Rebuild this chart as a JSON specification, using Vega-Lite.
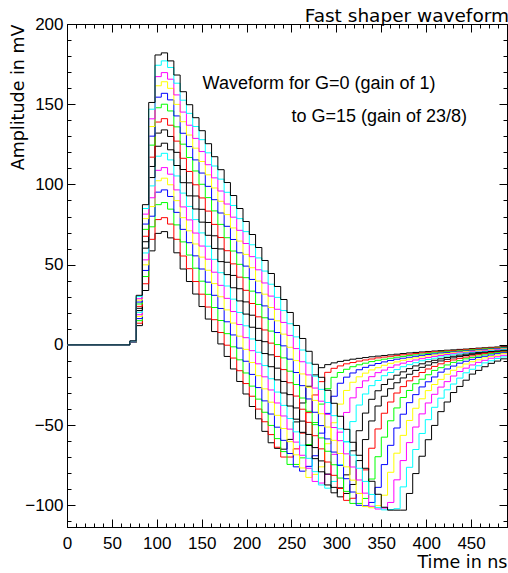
{
"$schema":"https://vega.github.io/schema/vega-lite/v6.json",
"width":440,"height":503,
"autosize":{"type":"none"},
"padding":{"left":67,"top":24,"right":1,"bottom":46},
"background":"white",
"config":{"view":{"stroke":"black","strokeWidth":1},
"axis":{"grid":false,"domainColor":"black","domainWidth":1,"tickColor":"black","tickWidth":1,"labelColor":"black","titleColor":"black","labelFont":"Liberation Sans","labelFontSize":17,"titleFont":"DejaVu Sans","titleFontSize":17.5,"titleFontWeight":"normal","labelOverlap":false,"labelFlush":false}},
"title":{"text":"Fast shaper waveform","anchor":"end","font":"DejaVu Sans","fontSize":18.5,"fontWeight":"normal","color":"black","offset":1,"dy":11},
"datasets":{"w":[
{"g":0,"t":0,"v":0},{"g":0,"t":70,"v":1.5},{"g":0,"t":77,"v":12.0},{"g":0,"t":84,"v":33.9},{"g":0,"t":91,"v":58.6},{"g":0,"t":98,"v":69.5},{"g":0,"t":105,"v":70.6},{"g":0,"t":112,"v":66.7},{"g":0,"t":119,"v":57.4},{"g":0,"t":126,"v":47.3},{"g":0,"t":133,"v":39.5},{"g":0,"t":140,"v":31.7},{"g":0,"t":147,"v":23.9},{"g":0,"t":154,"v":16.1},{"g":0,"t":161,"v":8.3},{"g":0,"t":168,"v":0.6},{"g":0,"t":175,"v":-7.2},{"g":0,"t":182,"v":-15.0},{"g":0,"t":189,"v":-22.8},{"g":0,"t":196,"v":-30.6},{"g":0,"t":203,"v":-38.4},{"g":0,"t":210,"v":-46.1},{"g":0,"t":217,"v":-53.9},{"g":0,"t":224,"v":-61},{"g":0,"t":231,"v":-64.5},{"g":0,"t":238,"v":-65},{"g":0,"t":245,"v":-58.9},{"g":0,"t":252,"v":-48.0},{"g":0,"t":259,"v":-36.2},{"g":0,"t":266,"v":-25.8},{"g":0,"t":273,"v":-18.7},{"g":0,"t":280,"v":-14.2},{"g":0,"t":287,"v":-12.3},{"g":0,"t":294,"v":-11.2},{"g":0,"t":301,"v":-10.3},{"g":0,"t":308,"v":-9.6},{"g":0,"t":315,"v":-8.9},{"g":0,"t":322,"v":-8.4},{"g":0,"t":329,"v":-7.9},{"g":0,"t":336,"v":-7.4},{"g":0,"t":343,"v":-7.0},{"g":0,"t":350,"v":-6.6},{"g":0,"t":357,"v":-6.2},{"g":0,"t":364,"v":-5.8},{"g":0,"t":371,"v":-5.4},{"g":0,"t":378,"v":-5.0},{"g":0,"t":385,"v":-4.7},{"g":0,"t":392,"v":-4.4},{"g":0,"t":399,"v":-4.1},{"g":0,"t":406,"v":-3.8},{"g":0,"t":413,"v":-3.6},{"g":0,"t":420,"v":-3.3},{"g":0,"t":427,"v":-3.1},{"g":0,"t":434,"v":-2.8},{"g":0,"t":441,"v":-2.6},{"g":0,"t":448,"v":-2.3},{"g":0,"t":455,"v":-2.0},{"g":0,"t":462,"v":-1.8},{"g":0,"t":469,"v":-1.5},{"g":0,"t":476,"v":-1.3},{"g":0,"t":483,"v":-1.1},{"g":0,"t":490,"v":-1.1},
{"g":1,"t":0,"v":0},{"g":1,"t":70,"v":1.6},{"g":1,"t":77,"v":13.5},{"g":1,"t":84,"v":38.1},{"g":1,"t":91,"v":65.8},{"g":1,"t":98,"v":78.1},{"g":1,"t":105,"v":79.3},{"g":1,"t":112,"v":75.3},{"g":1,"t":119,"v":65.8},{"g":1,"t":126,"v":55.4},{"g":1,"t":133,"v":47.5},{"g":1,"t":140,"v":39.5},{"g":1,"t":147,"v":31.6},{"g":1,"t":154,"v":23.6},{"g":1,"t":161,"v":15.7},{"g":1,"t":168,"v":7.7},{"g":1,"t":175,"v":-0.2},{"g":1,"t":182,"v":-8.2},{"g":1,"t":189,"v":-16.1},{"g":1,"t":196,"v":-24.1},{"g":1,"t":203,"v":-32.0},{"g":1,"t":210,"v":-40.0},{"g":1,"t":217,"v":-47.9},{"g":1,"t":224,"v":-55.9},{"g":1,"t":231,"v":-63.8},{"g":1,"t":238,"v":-69.9},{"g":1,"t":245,"v":-69.9},{"g":1,"t":252,"v":-64.8},{"g":1,"t":259,"v":-55.0},{"g":1,"t":266,"v":-42.2},{"g":1,"t":273,"v":-31.2},{"g":1,"t":280,"v":-22.9},{"g":1,"t":287,"v":-17.1},{"g":1,"t":294,"v":-14.6},{"g":1,"t":301,"v":-13.1},{"g":1,"t":308,"v":-11.8},{"g":1,"t":315,"v":-11.0},{"g":1,"t":322,"v":-10.1},{"g":1,"t":329,"v":-9.4},{"g":1,"t":336,"v":-8.8},{"g":1,"t":343,"v":-8.1},{"g":1,"t":350,"v":-7.6},{"g":1,"t":357,"v":-7.1},{"g":1,"t":364,"v":-6.7},{"g":1,"t":371,"v":-6.2},{"g":1,"t":378,"v":-5.8},{"g":1,"t":385,"v":-5.4},{"g":1,"t":392,"v":-5.0},{"g":1,"t":399,"v":-4.6},{"g":1,"t":406,"v":-4.3},{"g":1,"t":413,"v":-4.1},{"g":1,"t":420,"v":-3.8},{"g":1,"t":427,"v":-3.5},{"g":1,"t":434,"v":-3.3},{"g":1,"t":441,"v":-3.0},{"g":1,"t":448,"v":-2.7},{"g":1,"t":455,"v":-2.4},{"g":1,"t":462,"v":-2.1},{"g":1,"t":469,"v":-1.9},{"g":1,"t":476,"v":-1.6},{"g":1,"t":483,"v":-1.4},{"g":1,"t":490,"v":-1.4},
{"g":2,"t":0,"v":0},{"g":2,"t":70,"v":1.6},{"g":2,"t":77,"v":15.1},{"g":2,"t":84,"v":42.6},{"g":2,"t":91,"v":73.6},{"g":2,"t":98,"v":87.4},{"g":2,"t":105,"v":88.7},{"g":2,"t":112,"v":84.6},{"g":2,"t":119,"v":74.8},{"g":2,"t":126,"v":64.2},{"g":2,"t":133,"v":56.0},{"g":2,"t":140,"v":47.8},{"g":2,"t":147,"v":39.7},{"g":2,"t":154,"v":31.5},{"g":2,"t":161,"v":23.3},{"g":2,"t":168,"v":15.2},{"g":2,"t":175,"v":7.0},{"g":2,"t":182,"v":-1.2},{"g":2,"t":189,"v":-9.3},{"g":2,"t":196,"v":-17.5},{"g":2,"t":203,"v":-25.7},{"g":2,"t":210,"v":-33.8},{"g":2,"t":217,"v":-42.0},{"g":2,"t":224,"v":-50.2},{"g":2,"t":231,"v":-58.4},{"g":2,"t":238,"v":-66.5},{"g":2,"t":245,"v":-74.5},{"g":2,"t":252,"v":-74.5},{"g":2,"t":259,"v":-70.4},{"g":2,"t":266,"v":-62.1},{"g":2,"t":273,"v":-48.4},{"g":2,"t":280,"v":-36.9},{"g":2,"t":287,"v":-27.3},{"g":2,"t":294,"v":-20.2},{"g":2,"t":301,"v":-17.2},{"g":2,"t":308,"v":-15.2},{"g":2,"t":315,"v":-13.6},{"g":2,"t":322,"v":-12.4},{"g":2,"t":329,"v":-11.4},{"g":2,"t":336,"v":-10.4},{"g":2,"t":343,"v":-9.6},{"g":2,"t":350,"v":-8.9},{"g":2,"t":357,"v":-8.3},{"g":2,"t":364,"v":-7.7},{"g":2,"t":371,"v":-7.2},{"g":2,"t":378,"v":-6.6},{"g":2,"t":385,"v":-6.2},{"g":2,"t":392,"v":-5.7},{"g":2,"t":399,"v":-5.3},{"g":2,"t":406,"v":-4.9},{"g":2,"t":413,"v":-4.5},{"g":2,"t":420,"v":-4.2},{"g":2,"t":427,"v":-4.0},{"g":2,"t":434,"v":-3.7},{"g":2,"t":441,"v":-3.4},{"g":2,"t":448,"v":-3.1},{"g":2,"t":455,"v":-2.8},{"g":2,"t":462,"v":-2.5},{"g":2,"t":469,"v":-2.2},{"g":2,"t":476,"v":-2.0},{"g":2,"t":483,"v":-1.7},{"g":2,"t":490,"v":-1.7},
{"g":3,"t":0,"v":0},{"g":3,"t":70,"v":1.7},{"g":3,"t":77,"v":16.4},{"g":3,"t":84,"v":46.4},{"g":3,"t":91,"v":80.2},{"g":3,"t":98,"v":95.2},{"g":3,"t":105,"v":96.6},{"g":3,"t":112,"v":92.5},{"g":3,"t":119,"v":82.6},{"g":3,"t":126,"v":72.0},{"g":3,"t":133,"v":63.7},{"g":3,"t":140,"v":55.5},{"g":3,"t":147,"v":47.3},{"g":3,"t":154,"v":39.1},{"g":3,"t":161,"v":30.9},{"g":3,"t":168,"v":22.7},{"g":3,"t":175,"v":14.4},{"g":3,"t":182,"v":6.2},{"g":3,"t":189,"v":-2.0},{"g":3,"t":196,"v":-10.2},{"g":3,"t":203,"v":-18.4},{"g":3,"t":210,"v":-26.6},{"g":3,"t":217,"v":-34.9},{"g":3,"t":224,"v":-43.1},{"g":3,"t":231,"v":-51.3},{"g":3,"t":238,"v":-59.5},{"g":3,"t":245,"v":-67.7},{"g":3,"t":252,"v":-76.0},{"g":3,"t":259,"v":-78.7},{"g":3,"t":266,"v":-75.7},{"g":3,"t":273,"v":-69.1},{"g":3,"t":280,"v":-55.0},{"g":3,"t":287,"v":-42.7},{"g":3,"t":294,"v":-32.0},{"g":3,"t":301,"v":-23.9},{"g":3,"t":308,"v":-20.1},{"g":3,"t":315,"v":-17.5},{"g":3,"t":322,"v":-15.5},{"g":3,"t":329,"v":-14.0},{"g":3,"t":336,"v":-12.7},{"g":3,"t":343,"v":-11.6},{"g":3,"t":350,"v":-10.6},{"g":3,"t":357,"v":-9.7},{"g":3,"t":364,"v":-8.9},{"g":3,"t":371,"v":-8.3},{"g":3,"t":378,"v":-7.7},{"g":3,"t":385,"v":-7.1},{"g":3,"t":392,"v":-6.5},{"g":3,"t":399,"v":-6.0},{"g":3,"t":406,"v":-5.6},{"g":3,"t":413,"v":-5.1},{"g":3,"t":420,"v":-4.7},{"g":3,"t":427,"v":-4.4},{"g":3,"t":434,"v":-4.1},{"g":3,"t":441,"v":-3.8},{"g":3,"t":448,"v":-3.5},{"g":3,"t":455,"v":-3.2},{"g":3,"t":462,"v":-2.9},{"g":3,"t":469,"v":-2.6},{"g":3,"t":476,"v":-2.3},{"g":3,"t":483,"v":-2.0},{"g":3,"t":490,"v":-2.0},
{"g":4,"t":0,"v":0},{"g":4,"t":70,"v":1.8},{"g":4,"t":77,"v":17.7},{"g":4,"t":84,"v":49.9},{"g":4,"t":91,"v":86.2},{"g":4,"t":98,"v":102.3},{"g":4,"t":105,"v":103.9},{"g":4,"t":112,"v":99.8},{"g":4,"t":119,"v":89.9},{"g":4,"t":126,"v":79.3},{"g":4,"t":133,"v":71.1},{"g":4,"t":140,"v":62.9},{"g":4,"t":147,"v":54.7},{"g":4,"t":154,"v":46.5},{"g":4,"t":161,"v":38.2},{"g":4,"t":168,"v":30.0},{"g":4,"t":175,"v":21.8},{"g":4,"t":182,"v":13.6},{"g":4,"t":189,"v":5.4},{"g":4,"t":196,"v":-2.8},{"g":4,"t":203,"v":-11.0},{"g":4,"t":210,"v":-19.2},{"g":4,"t":217,"v":-27.4},{"g":4,"t":224,"v":-35.7},{"g":4,"t":231,"v":-43.9},{"g":4,"t":238,"v":-52.1},{"g":4,"t":245,"v":-60.3},{"g":4,"t":252,"v":-68.5},{"g":4,"t":259,"v":-76.7},{"g":4,"t":266,"v":-82.6},{"g":4,"t":273,"v":-80.7},{"g":4,"t":280,"v":-76.0},{"g":4,"t":287,"v":-61.6},{"g":4,"t":294,"v":-48.5},{"g":4,"t":301,"v":-36.9},{"g":4,"t":308,"v":-28.4},{"g":4,"t":315,"v":-23.3},{"g":4,"t":322,"v":-19.9},{"g":4,"t":329,"v":-17.6},{"g":4,"t":336,"v":-15.6},{"g":4,"t":343,"v":-14.2},{"g":4,"t":350,"v":-12.7},{"g":4,"t":357,"v":-11.5},{"g":4,"t":364,"v":-10.6},{"g":4,"t":371,"v":-9.6},{"g":4,"t":378,"v":-8.8},{"g":4,"t":385,"v":-8.1},{"g":4,"t":392,"v":-7.5},{"g":4,"t":399,"v":-6.9},{"g":4,"t":406,"v":-6.3},{"g":4,"t":413,"v":-5.8},{"g":4,"t":420,"v":-5.3},{"g":4,"t":427,"v":-4.9},{"g":4,"t":434,"v":-4.5},{"g":4,"t":441,"v":-4.2},{"g":4,"t":448,"v":-3.9},{"g":4,"t":455,"v":-3.6},{"g":4,"t":462,"v":-3.3},{"g":4,"t":469,"v":-2.9},{"g":4,"t":476,"v":-2.7},{"g":4,"t":483,"v":-2.4},{"g":4,"t":490,"v":-2.4},
{"g":5,"t":0,"v":0},{"g":5,"t":70,"v":1.8},{"g":5,"t":77,"v":18.8},{"g":5,"t":84,"v":53.0},{"g":5,"t":91,"v":91.7},{"g":5,"t":98,"v":108.8},{"g":5,"t":105,"v":110.5},{"g":5,"t":112,"v":106.4},{"g":5,"t":119,"v":96.6},{"g":5,"t":126,"v":86.0},{"g":5,"t":133,"v":77.9},{"g":5,"t":140,"v":69.7},{"g":5,"t":147,"v":61.6},{"g":5,"t":154,"v":53.4},{"g":5,"t":161,"v":45.3},{"g":5,"t":168,"v":37.1},{"g":5,"t":175,"v":29.0},{"g":5,"t":182,"v":20.8},{"g":5,"t":189,"v":12.7},{"g":5,"t":196,"v":4.5},{"g":5,"t":203,"v":-3.6},{"g":5,"t":210,"v":-11.8},{"g":5,"t":217,"v":-19.9},{"g":5,"t":224,"v":-28.1},{"g":5,"t":231,"v":-36.2},{"g":5,"t":238,"v":-44.3},{"g":5,"t":245,"v":-52.5},{"g":5,"t":252,"v":-60.6},{"g":5,"t":259,"v":-68.8},{"g":5,"t":266,"v":-76.9},{"g":5,"t":273,"v":-85.1},{"g":5,"t":280,"v":-86.1},{"g":5,"t":287,"v":-80.7},{"g":5,"t":294,"v":-68.2},{"g":5,"t":301,"v":-54.4},{"g":5,"t":308,"v":-42.1},{"g":5,"t":315,"v":-33.0},{"g":5,"t":322,"v":-26.6},{"g":5,"t":329,"v":-22.4},{"g":5,"t":336,"v":-19.8},{"g":5,"t":343,"v":-17.3},{"g":5,"t":350,"v":-15.7},{"g":5,"t":357,"v":-14.0},{"g":5,"t":364,"v":-12.5},{"g":5,"t":371,"v":-11.4},{"g":5,"t":378,"v":-10.3},{"g":5,"t":385,"v":-9.4},{"g":5,"t":392,"v":-8.6},{"g":5,"t":399,"v":-7.9},{"g":5,"t":406,"v":-7.2},{"g":5,"t":413,"v":-6.6},{"g":5,"t":420,"v":-6.0},{"g":5,"t":427,"v":-5.5},{"g":5,"t":434,"v":-5.0},{"g":5,"t":441,"v":-4.7},{"g":5,"t":448,"v":-4.3},{"g":5,"t":455,"v":-4.0},{"g":5,"t":462,"v":-3.7},{"g":5,"t":469,"v":-3.3},{"g":5,"t":476,"v":-3.0},{"g":5,"t":483,"v":-2.7},{"g":5,"t":490,"v":-2.7},
{"g":6,"t":0,"v":0},{"g":6,"t":70,"v":1.9},{"g":6,"t":77,"v":20.3},{"g":6,"t":84,"v":57.3},{"g":6,"t":91,"v":99.1},{"g":6,"t":98,"v":117.6},{"g":6,"t":105,"v":119.4},{"g":6,"t":112,"v":115.3},{"g":6,"t":119,"v":105.3},{"g":6,"t":126,"v":94.6},{"g":6,"t":133,"v":86.3},{"g":6,"t":140,"v":78.1},{"g":6,"t":147,"v":69.8},{"g":6,"t":154,"v":61.5},{"g":6,"t":161,"v":53.3},{"g":6,"t":168,"v":45.0},{"g":6,"t":175,"v":36.7},{"g":6,"t":182,"v":28.5},{"g":6,"t":189,"v":20.2},{"g":6,"t":196,"v":11.9},{"g":6,"t":203,"v":3.7},{"g":6,"t":210,"v":-4.6},{"g":6,"t":217,"v":-12.9},{"g":6,"t":224,"v":-21.1},{"g":6,"t":231,"v":-29.4},{"g":6,"t":238,"v":-37.7},{"g":6,"t":245,"v":-45.9},{"g":6,"t":252,"v":-54.2},{"g":6,"t":259,"v":-62.5},{"g":6,"t":266,"v":-70.7},{"g":6,"t":273,"v":-79.0},{"g":6,"t":280,"v":-87.3},{"g":6,"t":287,"v":-89.3},{"g":6,"t":294,"v":-85.1},{"g":6,"t":301,"v":-74.7},{"g":6,"t":308,"v":-60.2},{"g":6,"t":315,"v":-47.8},{"g":6,"t":322,"v":-37.5},{"g":6,"t":329,"v":-30.6},{"g":6,"t":336,"v":-25.4},{"g":6,"t":343,"v":-22.2},{"g":6,"t":350,"v":-19.2},{"g":6,"t":357,"v":-17.2},{"g":6,"t":364,"v":-15.4},{"g":6,"t":371,"v":-13.6},{"g":6,"t":378,"v":-12.3},{"g":6,"t":385,"v":-11.1},{"g":6,"t":392,"v":-9.9},{"g":6,"t":399,"v":-9.1},{"g":6,"t":406,"v":-8.3},{"g":6,"t":413,"v":-7.5},{"g":6,"t":420,"v":-6.9},{"g":6,"t":427,"v":-6.2},{"g":6,"t":434,"v":-5.6},{"g":6,"t":441,"v":-5.1},{"g":6,"t":448,"v":-4.8},{"g":6,"t":455,"v":-4.4},{"g":6,"t":462,"v":-4.1},{"g":6,"t":469,"v":-3.7},{"g":6,"t":476,"v":-3.4},{"g":6,"t":483,"v":-3.0},{"g":6,"t":490,"v":-3.0},
{"g":7,"t":0,"v":0},{"g":7,"t":70,"v":2.0},{"g":7,"t":77,"v":21.4},{"g":7,"t":84,"v":60.3},{"g":7,"t":91,"v":104.3},{"g":7,"t":98,"v":123.8},{"g":7,"t":105,"v":125.7},{"g":7,"t":112,"v":121.6},{"g":7,"t":119,"v":111.8},{"g":7,"t":126,"v":101.1},{"g":7,"t":133,"v":92.9},{"g":7,"t":140,"v":84.7},{"g":7,"t":147,"v":76.5},{"g":7,"t":154,"v":68.3},{"g":7,"t":161,"v":60.1},{"g":7,"t":168,"v":51.9},{"g":7,"t":175,"v":43.8},{"g":7,"t":182,"v":35.6},{"g":7,"t":189,"v":27.4},{"g":7,"t":196,"v":19.2},{"g":7,"t":203,"v":11.0},{"g":7,"t":210,"v":2.8},{"g":7,"t":217,"v":-5.4},{"g":7,"t":224,"v":-13.6},{"g":7,"t":231,"v":-21.8},{"g":7,"t":238,"v":-30.0},{"g":7,"t":245,"v":-38.1},{"g":7,"t":252,"v":-46.3},{"g":7,"t":259,"v":-54.5},{"g":7,"t":266,"v":-62.7},{"g":7,"t":273,"v":-70.9},{"g":7,"t":280,"v":-79.1},{"g":7,"t":287,"v":-87.3},{"g":7,"t":294,"v":-92.2},{"g":7,"t":301,"v":-89.1},{"g":7,"t":308,"v":-81.0},{"g":7,"t":315,"v":-66.0},{"g":7,"t":322,"v":-53.5},{"g":7,"t":329,"v":-42.5},{"g":7,"t":336,"v":-33.9},{"g":7,"t":343,"v":-28.6},{"g":7,"t":350,"v":-24.7},{"g":7,"t":357,"v":-21.4},{"g":7,"t":364,"v":-18.9},{"g":7,"t":371,"v":-16.8},{"g":7,"t":378,"v":-14.8},{"g":7,"t":385,"v":-13.1},{"g":7,"t":392,"v":-11.8},{"g":7,"t":399,"v":-10.5},{"g":7,"t":406,"v":-9.6},{"g":7,"t":413,"v":-8.7},{"g":7,"t":420,"v":-7.8},{"g":7,"t":427,"v":-7.1},{"g":7,"t":434,"v":-6.4},{"g":7,"t":441,"v":-5.8},{"g":7,"t":448,"v":-5.2},{"g":7,"t":455,"v":-4.8},{"g":7,"t":462,"v":-4.5},{"g":7,"t":469,"v":-4.1},{"g":7,"t":476,"v":-3.8},{"g":7,"t":483,"v":-3.4},{"g":7,"t":490,"v":-3.4},
{"g":8,"t":0,"v":0},{"g":8,"t":70,"v":2.0},{"g":8,"t":77,"v":22.8},{"g":8,"t":84,"v":64.3},{"g":8,"t":91,"v":111.2},{"g":8,"t":98,"v":132.0},{"g":8,"t":105,"v":134.0},{"g":8,"t":112,"v":129.9},{"g":8,"t":119,"v":120.0},{"g":8,"t":126,"v":109.3},{"g":8,"t":133,"v":101.0},{"g":8,"t":140,"v":92.8},{"g":8,"t":147,"v":84.5},{"g":8,"t":154,"v":76.3},{"g":8,"t":161,"v":68.0},{"g":8,"t":168,"v":59.8},{"g":8,"t":175,"v":51.5},{"g":8,"t":182,"v":43.3},{"g":8,"t":189,"v":35.0},{"g":8,"t":196,"v":26.8},{"g":8,"t":203,"v":18.5},{"g":8,"t":210,"v":10.3},{"g":8,"t":217,"v":2.0},{"g":8,"t":224,"v":-6.2},{"g":8,"t":231,"v":-14.5},{"g":8,"t":238,"v":-22.8},{"g":8,"t":245,"v":-31.0},{"g":8,"t":252,"v":-39.3},{"g":8,"t":259,"v":-47.5},{"g":8,"t":266,"v":-55.8},{"g":8,"t":273,"v":-64.0},{"g":8,"t":280,"v":-72.3},{"g":8,"t":287,"v":-80.5},{"g":8,"t":294,"v":-88.8},{"g":8,"t":301,"v":-94.7},{"g":8,"t":308,"v":-92.6},{"g":8,"t":315,"v":-87.0},{"g":8,"t":322,"v":-72.1},{"g":8,"t":329,"v":-59.0},{"g":8,"t":336,"v":-47.4},{"g":8,"t":343,"v":-38.1},{"g":8,"t":350,"v":-32.0},{"g":8,"t":357,"v":-27.3},{"g":8,"t":364,"v":-23.6},{"g":8,"t":371,"v":-20.6},{"g":8,"t":378,"v":-18.3},{"g":8,"t":385,"v":-15.9},{"g":8,"t":392,"v":-14.0},{"g":8,"t":399,"v":-12.6},{"g":8,"t":406,"v":-11.1},{"g":8,"t":413,"v":-10.0},{"g":8,"t":420,"v":-9.0},{"g":8,"t":427,"v":-8.1},{"g":8,"t":434,"v":-7.3},{"g":8,"t":441,"v":-6.6},{"g":8,"t":448,"v":-5.9},{"g":8,"t":455,"v":-5.3},{"g":8,"t":462,"v":-4.9},{"g":8,"t":469,"v":-4.5},{"g":8,"t":476,"v":-4.1},{"g":8,"t":483,"v":-3.8},{"g":8,"t":490,"v":-3.8},
{"g":9,"t":0,"v":0},{"g":9,"t":70,"v":2.1},{"g":9,"t":77,"v":24.0},{"g":9,"t":84,"v":67.7},{"g":9,"t":91,"v":117.0},{"g":9,"t":98,"v":138.9},{"g":9,"t":105,"v":141.0},{"g":9,"t":112,"v":136.9},{"g":9,"t":119,"v":127.0},{"g":9,"t":126,"v":116.3},{"g":9,"t":133,"v":108.1},{"g":9,"t":140,"v":99.8},{"g":9,"t":147,"v":91.6},{"g":9,"t":154,"v":83.4},{"g":9,"t":161,"v":75.1},{"g":9,"t":168,"v":66.9},{"g":9,"t":175,"v":58.7},{"g":9,"t":182,"v":50.5},{"g":9,"t":189,"v":42.2},{"g":9,"t":196,"v":34.0},{"g":9,"t":203,"v":25.8},{"g":9,"t":210,"v":17.5},{"g":9,"t":217,"v":9.3},{"g":9,"t":224,"v":1.1},{"g":9,"t":231,"v":-7.2},{"g":9,"t":238,"v":-15.4},{"g":9,"t":245,"v":-23.6},{"g":9,"t":252,"v":-31.9},{"g":9,"t":259,"v":-40.1},{"g":9,"t":266,"v":-48.3},{"g":9,"t":273,"v":-56.6},{"g":9,"t":280,"v":-64.8},{"g":9,"t":287,"v":-73.0},{"g":9,"t":294,"v":-81.3},{"g":9,"t":301,"v":-89.5},{"g":9,"t":308,"v":-96.9},{"g":9,"t":315,"v":-95.6},{"g":9,"t":322,"v":-92.6},{"g":9,"t":329,"v":-77.9},{"g":9,"t":336,"v":-64.4},{"g":9,"t":343,"v":-52.4},{"g":9,"t":350,"v":-42.6},{"g":9,"t":357,"v":-35.6},{"g":9,"t":364,"v":-30.0},{"g":9,"t":371,"v":-26.0},{"g":9,"t":378,"v":-22.4},{"g":9,"t":385,"v":-19.8},{"g":9,"t":392,"v":-17.2},{"g":9,"t":399,"v":-15.0},{"g":9,"t":406,"v":-13.4},{"g":9,"t":413,"v":-11.8},{"g":9,"t":420,"v":-10.4},{"g":9,"t":427,"v":-9.4},{"g":9,"t":434,"v":-8.4},{"g":9,"t":441,"v":-7.6},{"g":9,"t":448,"v":-6.8},{"g":9,"t":455,"v":-6.1},{"g":9,"t":462,"v":-5.3},{"g":9,"t":469,"v":-4.9},{"g":9,"t":476,"v":-4.5},{"g":9,"t":483,"v":-4.1},{"g":9,"t":490,"v":-4.1},
{"g":10,"t":0,"v":0},{"g":10,"t":70,"v":2.2},{"g":10,"t":77,"v":25.5},{"g":10,"t":84,"v":72.0},{"g":10,"t":91,"v":124.5},{"g":10,"t":98,"v":147.8},{"g":10,"t":105,"v":150.0},{"g":10,"t":112,"v":145.8},{"g":10,"t":119,"v":135.9},{"g":10,"t":126,"v":125.1},{"g":10,"t":133,"v":116.8},{"g":10,"t":140,"v":108.4},{"g":10,"t":147,"v":100.1},{"g":10,"t":154,"v":91.8},{"g":10,"t":161,"v":83.5},{"g":10,"t":168,"v":75.1},{"g":10,"t":175,"v":66.8},{"g":10,"t":182,"v":58.5},{"g":10,"t":189,"v":50.2},{"g":10,"t":196,"v":41.9},{"g":10,"t":203,"v":33.5},{"g":10,"t":210,"v":25.2},{"g":10,"t":217,"v":16.9},{"g":10,"t":224,"v":8.6},{"g":10,"t":231,"v":0.2},{"g":10,"t":238,"v":-8.1},{"g":10,"t":245,"v":-16.4},{"g":10,"t":252,"v":-24.7},{"g":10,"t":259,"v":-33.1},{"g":10,"t":266,"v":-41.4},{"g":10,"t":273,"v":-49.7},{"g":10,"t":280,"v":-58.0},{"g":10,"t":287,"v":-66.3},{"g":10,"t":294,"v":-74.7},{"g":10,"t":301,"v":-83.0},{"g":10,"t":308,"v":-91.3},{"g":10,"t":315,"v":-98.8},{"g":10,"t":322,"v":-98.8},{"g":10,"t":329,"v":-95.7},{"g":10,"t":336,"v":-83.6},{"g":10,"t":343,"v":-69.7},{"g":10,"t":350,"v":-57.5},{"g":10,"t":357,"v":-47.3},{"g":10,"t":364,"v":-39.3},{"g":10,"t":371,"v":-32.8},{"g":10,"t":378,"v":-28.4},{"g":10,"t":385,"v":-24.2},{"g":10,"t":392,"v":-21.4},{"g":10,"t":399,"v":-18.6},{"g":10,"t":406,"v":-15.9},{"g":10,"t":413,"v":-14.2},{"g":10,"t":420,"v":-12.5},{"g":10,"t":427,"v":-10.9},{"g":10,"t":434,"v":-9.8},{"g":10,"t":441,"v":-8.7},{"g":10,"t":448,"v":-7.8},{"g":10,"t":455,"v":-7.0},{"g":10,"t":462,"v":-6.2},{"g":10,"t":469,"v":-5.4},{"g":10,"t":476,"v":-4.9},{"g":10,"t":483,"v":-4.5},{"g":10,"t":490,"v":-4.5},
{"g":11,"t":0,"v":0},{"g":11,"t":70,"v":2.2},{"g":11,"t":77,"v":26.7},{"g":11,"t":84,"v":75.3},{"g":11,"t":91,"v":130.1},{"g":11,"t":98,"v":154.4},{"g":11,"t":105,"v":156.8},{"g":11,"t":112,"v":152.7},{"g":11,"t":119,"v":142.7},{"g":11,"t":126,"v":131.9},{"g":11,"t":133,"v":123.6},{"g":11,"t":140,"v":115.3},{"g":11,"t":147,"v":107.1},{"g":11,"t":154,"v":98.8},{"g":11,"t":161,"v":90.5},{"g":11,"t":168,"v":82.2},{"g":11,"t":175,"v":73.9},{"g":11,"t":182,"v":65.7},{"g":11,"t":189,"v":57.4},{"g":11,"t":196,"v":49.1},{"g":11,"t":203,"v":40.8},{"g":11,"t":210,"v":32.5},{"g":11,"t":217,"v":24.3},{"g":11,"t":224,"v":16.0},{"g":11,"t":231,"v":7.7},{"g":11,"t":238,"v":-0.6},{"g":11,"t":245,"v":-8.9},{"g":11,"t":252,"v":-17.2},{"g":11,"t":259,"v":-25.4},{"g":11,"t":266,"v":-33.7},{"g":11,"t":273,"v":-42.0},{"g":11,"t":280,"v":-50.3},{"g":11,"t":287,"v":-58.6},{"g":11,"t":294,"v":-66.8},{"g":11,"t":301,"v":-75.1},{"g":11,"t":308,"v":-83.4},{"g":11,"t":315,"v":-91.7},{"g":11,"t":322,"v":-100.0},{"g":11,"t":329,"v":-100.3},{"g":11,"t":336,"v":-98.2},{"g":11,"t":343,"v":-88.8},{"g":11,"t":350,"v":-74.6},{"g":11,"t":357,"v":-62.6},{"g":11,"t":364,"v":-51.8},{"g":11,"t":371,"v":-43.2},{"g":11,"t":378,"v":-36.0},{"g":11,"t":385,"v":-31.0},{"g":11,"t":392,"v":-26.2},{"g":11,"t":399,"v":-23.0},{"g":11,"t":406,"v":-20.0},{"g":11,"t":413,"v":-17.0},{"g":11,"t":420,"v":-15.0},{"g":11,"t":427,"v":-13.2},{"g":11,"t":434,"v":-11.4},{"g":11,"t":441,"v":-10.2},{"g":11,"t":448,"v":-9.0},{"g":11,"t":455,"v":-7.9},{"g":11,"t":462,"v":-7.1},{"g":11,"t":469,"v":-6.3},{"g":11,"t":476,"v":-5.5},{"g":11,"t":483,"v":-4.9},{"g":11,"t":490,"v":-4.9},
{"g":12,"t":0,"v":0},{"g":12,"t":70,"v":2.3},{"g":12,"t":77,"v":27.9},{"g":12,"t":84,"v":78.7},{"g":12,"t":91,"v":136.1},{"g":12,"t":98,"v":161.5},{"g":12,"t":105,"v":164.0},{"g":12,"t":112,"v":159.9},{"g":12,"t":119,"v":149.9},{"g":12,"t":126,"v":139.1},{"g":12,"t":133,"v":130.8},{"g":12,"t":140,"v":122.6},{"g":12,"t":147,"v":114.3},{"g":12,"t":154,"v":106.0},{"g":12,"t":161,"v":97.8},{"g":12,"t":168,"v":89.5},{"g":12,"t":175,"v":81.2},{"g":12,"t":182,"v":72.9},{"g":12,"t":189,"v":64.7},{"g":12,"t":196,"v":56.4},{"g":12,"t":203,"v":48.1},{"g":12,"t":210,"v":39.8},{"g":12,"t":217,"v":31.6},{"g":12,"t":224,"v":23.3},{"g":12,"t":231,"v":15.0},{"g":12,"t":238,"v":6.7},{"g":12,"t":245,"v":-1.5},{"g":12,"t":252,"v":-9.8},{"g":12,"t":259,"v":-18.1},{"g":12,"t":266,"v":-26.4},{"g":12,"t":273,"v":-34.6},{"g":12,"t":280,"v":-42.9},{"g":12,"t":287,"v":-51.2},{"g":12,"t":294,"v":-59.5},{"g":12,"t":301,"v":-67.7},{"g":12,"t":308,"v":-76.0},{"g":12,"t":315,"v":-84.3},{"g":12,"t":322,"v":-92.6},{"g":12,"t":329,"v":-100.8},{"g":12,"t":336,"v":-101.5},{"g":12,"t":343,"v":-100.2},{"g":12,"t":350,"v":-93.7},{"g":12,"t":357,"v":-79.4},{"g":12,"t":364,"v":-67.5},{"g":12,"t":371,"v":-56.4},{"g":12,"t":378,"v":-47.1},{"g":12,"t":385,"v":-39.5},{"g":12,"t":392,"v":-33.6},{"g":12,"t":399,"v":-28.5},{"g":12,"t":406,"v":-24.7},{"g":12,"t":413,"v":-21.5},{"g":12,"t":420,"v":-18.3},{"g":12,"t":427,"v":-15.8},{"g":12,"t":434,"v":-13.8},{"g":12,"t":441,"v":-11.9},{"g":12,"t":448,"v":-10.5},{"g":12,"t":455,"v":-9.3},{"g":12,"t":462,"v":-8.1},{"g":12,"t":469,"v":-7.2},{"g":12,"t":476,"v":-6.4},{"g":12,"t":483,"v":-5.5},{"g":12,"t":490,"v":-5.5},
{"g":13,"t":0,"v":0},{"g":13,"t":70,"v":2.4},{"g":13,"t":77,"v":28.8},{"g":13,"t":84,"v":81.5},{"g":13,"t":91,"v":140.9},{"g":13,"t":98,"v":167.2},{"g":13,"t":105,"v":169.7},{"g":13,"t":112,"v":165.6},{"g":13,"t":119,"v":155.8},{"g":13,"t":126,"v":145.1},{"g":13,"t":133,"v":136.9},{"g":13,"t":140,"v":128.7},{"g":13,"t":147,"v":120.5},{"g":13,"t":154,"v":112.3},{"g":13,"t":161,"v":104.1},{"g":13,"t":168,"v":95.9},{"g":13,"t":175,"v":87.8},{"g":13,"t":182,"v":79.6},{"g":13,"t":189,"v":71.4},{"g":13,"t":196,"v":63.2},{"g":13,"t":203,"v":55.0},{"g":13,"t":210,"v":46.8},{"g":13,"t":217,"v":38.6},{"g":13,"t":224,"v":30.4},{"g":13,"t":231,"v":22.2},{"g":13,"t":238,"v":14.0},{"g":13,"t":245,"v":5.9},{"g":13,"t":252,"v":-2.3},{"g":13,"t":259,"v":-10.5},{"g":13,"t":266,"v":-18.7},{"g":13,"t":273,"v":-26.9},{"g":13,"t":280,"v":-35.1},{"g":13,"t":287,"v":-43.3},{"g":13,"t":294,"v":-51.5},{"g":13,"t":301,"v":-59.7},{"g":13,"t":308,"v":-67.9},{"g":13,"t":315,"v":-76.1},{"g":13,"t":322,"v":-84.2},{"g":13,"t":329,"v":-92.4},{"g":13,"t":336,"v":-100.6},{"g":13,"t":343,"v":-102.3},{"g":13,"t":350,"v":-101.7},{"g":13,"t":357,"v":-98.2},{"g":13,"t":364,"v":-84.1},{"g":13,"t":371,"v":-72.1},{"g":13,"t":378,"v":-60.9},{"g":13,"t":385,"v":-51.2},{"g":13,"t":392,"v":-43.0},{"g":13,"t":399,"v":-36.2},{"g":13,"t":406,"v":-30.8},{"g":13,"t":413,"v":-26.3},{"g":13,"t":420,"v":-22.9},{"g":13,"t":427,"v":-19.4},{"g":13,"t":434,"v":-16.6},{"g":13,"t":441,"v":-14.5},{"g":13,"t":448,"v":-12.5},{"g":13,"t":455,"v":-10.9},{"g":13,"t":462,"v":-9.6},{"g":13,"t":469,"v":-8.3},{"g":13,"t":476,"v":-7.4},{"g":13,"t":483,"v":-6.5},{"g":13,"t":490,"v":-6.5},
{"g":14,"t":0,"v":0},{"g":14,"t":70,"v":2.4},{"g":14,"t":77,"v":30.1},{"g":14,"t":84,"v":85.0},{"g":14,"t":91,"v":146.9},{"g":14,"t":98,"v":174.3},{"g":14,"t":105,"v":177.0},{"g":14,"t":112,"v":172.9},{"g":14,"t":119,"v":163.1},{"g":14,"t":126,"v":152.5},{"g":14,"t":133,"v":144.3},{"g":14,"t":140,"v":136.1},{"g":14,"t":147,"v":127.9},{"g":14,"t":154,"v":119.7},{"g":14,"t":161,"v":111.5},{"g":14,"t":168,"v":103.3},{"g":14,"t":175,"v":95.1},{"g":14,"t":182,"v":86.9},{"g":14,"t":189,"v":78.7},{"g":14,"t":196,"v":70.6},{"g":14,"t":203,"v":62.4},{"g":14,"t":210,"v":54.2},{"g":14,"t":217,"v":46.0},{"g":14,"t":224,"v":37.8},{"g":14,"t":231,"v":29.6},{"g":14,"t":238,"v":21.4},{"g":14,"t":245,"v":13.2},{"g":14,"t":252,"v":5.0},{"g":14,"t":259,"v":-3.2},{"g":14,"t":266,"v":-11.3},{"g":14,"t":273,"v":-19.5},{"g":14,"t":280,"v":-27.7},{"g":14,"t":287,"v":-35.9},{"g":14,"t":294,"v":-44.1},{"g":14,"t":301,"v":-52.3},{"g":14,"t":308,"v":-60.5},{"g":14,"t":315,"v":-68.7},{"g":14,"t":322,"v":-76.9},{"g":14,"t":329,"v":-85.1},{"g":14,"t":336,"v":-93.2},{"g":14,"t":343,"v":-101.4},{"g":14,"t":350,"v":-102.8},{"g":14,"t":357,"v":-102.6},{"g":14,"t":364,"v":-102.1},{"g":14,"t":371,"v":-88.5},{"g":14,"t":378,"v":-76.3},{"g":14,"t":385,"v":-65.2},{"g":14,"t":392,"v":-55.2},{"g":14,"t":399,"v":-46.6},{"g":14,"t":406,"v":-38.9},{"g":14,"t":413,"v":-33.2},{"g":14,"t":420,"v":-28.0},{"g":14,"t":427,"v":-24.4},{"g":14,"t":434,"v":-20.7},{"g":14,"t":441,"v":-17.4},{"g":14,"t":448,"v":-15.2},{"g":14,"t":455,"v":-13.0},{"g":14,"t":462,"v":-11.2},{"g":14,"t":469,"v":-9.9},{"g":14,"t":476,"v":-8.5},{"g":14,"t":483,"v":-7.5},{"g":14,"t":490,"v":-7.5},
{"g":15,"t":0,"v":0},{"g":15,"t":70,"v":2.5},{"g":15,"t":77,"v":30.9},{"g":15,"t":84,"v":87.4},{"g":15,"t":91,"v":151.1},{"g":15,"t":98,"v":180.7},{"g":15,"t":105,"v":182.0},{"g":15,"t":112,"v":177.0},{"g":15,"t":119,"v":168.2},{"g":15,"t":126,"v":157.8},{"g":15,"t":133,"v":149.7},{"g":15,"t":140,"v":141.6},{"g":15,"t":147,"v":133.5},{"g":15,"t":154,"v":125.4},{"g":15,"t":161,"v":117.3},{"g":15,"t":168,"v":109.2},{"g":15,"t":175,"v":101.2},{"g":15,"t":182,"v":93.1},{"g":15,"t":189,"v":85.0},{"g":15,"t":196,"v":76.9},{"g":15,"t":203,"v":68.8},{"g":15,"t":210,"v":60.7},{"g":15,"t":217,"v":52.6},{"g":15,"t":224,"v":44.5},{"g":15,"t":231,"v":36.4},{"g":15,"t":238,"v":28.3},{"g":15,"t":245,"v":20.2},{"g":15,"t":252,"v":12.1},{"g":15,"t":259,"v":4.0},{"g":15,"t":266,"v":-4.0},{"g":15,"t":273,"v":-12.1},{"g":15,"t":280,"v":-20.2},{"g":15,"t":287,"v":-28.3},{"g":15,"t":294,"v":-36.4},{"g":15,"t":301,"v":-44.5},{"g":15,"t":308,"v":-52.6},{"g":15,"t":315,"v":-60.7},{"g":15,"t":322,"v":-68.8},{"g":15,"t":329,"v":-76.9},{"g":15,"t":336,"v":-85.0},{"g":15,"t":343,"v":-93.1},{"g":15,"t":350,"v":-101.2},{"g":15,"t":357,"v":-103},{"g":15,"t":364,"v":-103},{"g":15,"t":371,"v":-103},{"g":15,"t":378,"v":-92.6},{"g":15,"t":385,"v":-80.2},{"g":15,"t":392,"v":-69.4},{"g":15,"t":399,"v":-59.1},{"g":15,"t":406,"v":-50.2},{"g":15,"t":413,"v":-41.6},{"g":15,"t":420,"v":-35.6},{"g":15,"t":427,"v":-29.7},{"g":15,"t":434,"v":-25.9},{"g":15,"t":441,"v":-22.0},{"g":15,"t":448,"v":-18.2},{"g":15,"t":455,"v":-15.9},{"g":15,"t":462,"v":-13.6},{"g":15,"t":469,"v":-11.5},{"g":15,"t":476,"v":-10.1},{"g":15,"t":483,"v":-8.7},{"g":15,"t":490,"v":-8.7}
]},
"layer":[
{"data":{"name":"w"},
"mark":{"type":"line","interpolate":"step-after","strokeWidth":1},
"encoding":{
"x":{"field":"t","type":"quantitative","scale":{"domain":[0,490],"nice":false,"zero":false},
"axis":{"orient":"bottom","values":[0,10,20,30,40,50,60,70,80,90,100,110,120,130,140,150,160,170,180,190,200,210,220,230,240,250,260,270,280,290,300,310,320,330,340,350,360,370,380,390,400,410,420,430,440,450,460,470,480,490],
"labelExpr":"datum.value % 50 === 0 ? datum.label : ''",
"tickSize":{"condition":{"test":"datum.value % 50 === 0","value":-8},"value":-4},
"labelPadding":16,"title":"Time in ns","titleAnchor":"end","titlePadding":-2}},
"y":{"field":"v","type":"quantitative","scale":{"domain":[-113.5,200],"nice":false,"zero":false},
"axis":{"orient":"left","values":[-110,-100,-90,-80,-70,-60,-50,-40,-30,-20,-10,0,10,20,30,40,50,60,70,80,90,100,110,120,130,140,150,160,170,180,190,200],
"labelExpr":"datum.value % 50 === 0 ? datum.label : ''",
"tickSize":{"condition":{"test":"datum.value % 50 === 0","value":-8},"value":-4},
"labelPadding":12,"title":"Amplitude in mV","titleAnchor":"end","titlePadding":-3}},
"color":{"field":"g","type":"nominal","legend":null,
"scale":{"domain":[0,1,2,3,4,5,6,7,8,9,10,11,12,13,14,15],
"range":["#000000","#ff0000","#00ff00","#0000ff","#ffff00","#ff00ff","#00ffff","#000000","#000000","#ff0000","#00ff00","#0000ff","#ffff00","#ff00ff","#00ffff","#000000"]}}}},
{"data":{"values":[{"t":0,"v":0}]},
"mark":{"type":"point","opacity":0},
"encoding":{
"x":{"field":"t","type":"quantitative",
"axis":{"orient":"top","values":[0,10,20,30,40,50,60,70,80,90,100,110,120,130,140,150,160,170,180,190,200,210,220,230,240,250,260,270,280,290,300,310,320,330,340,350,360,370,380,390,400,410,420,430,440,450,460,470,480,490],
"labels":false,"title":null,
"tickSize":{"condition":{"test":"datum.value % 50 === 0","value":-8},"value":-4}}},
"y":{"field":"v","type":"quantitative",
"axis":{"orient":"right","values":[-110,-100,-90,-80,-70,-60,-50,-40,-30,-20,-10,0,10,20,30,40,50,60,70,80,90,100,110,120,130,140,150,160,170,180,190,200],
"labels":false,"title":null,
"tickSize":{"condition":{"test":"datum.value % 50 === 0","value":-8},"value":-4}}}}},
{"data":{"values":[{"label":"Waveform for G=0 (gain of 1)"}]},
"mark":{"type":"text","align":"left","baseline":"alphabetic","font":"Liberation Sans","fontSize":18,"color":"black"},
"encoding":{"x":{"datum":151,"type":"quantitative","axis":null},"y":{"datum":159.5,"type":"quantitative","axis":null},"text":{"field":"label"}}},
{"data":{"values":[{"label":"to G=15 (gain of 23/8)"}]},
"mark":{"type":"text","align":"left","baseline":"alphabetic","font":"Liberation Sans","fontSize":18,"color":"black","letterSpacing":0.6},
"encoding":{"x":{"datum":250,"type":"quantitative","axis":null},"y":{"datum":139,"type":"quantitative","axis":null},"text":{"field":"label"}}}
],
"resolve":{"axis":{"x":"independent","y":"independent"}}
}
